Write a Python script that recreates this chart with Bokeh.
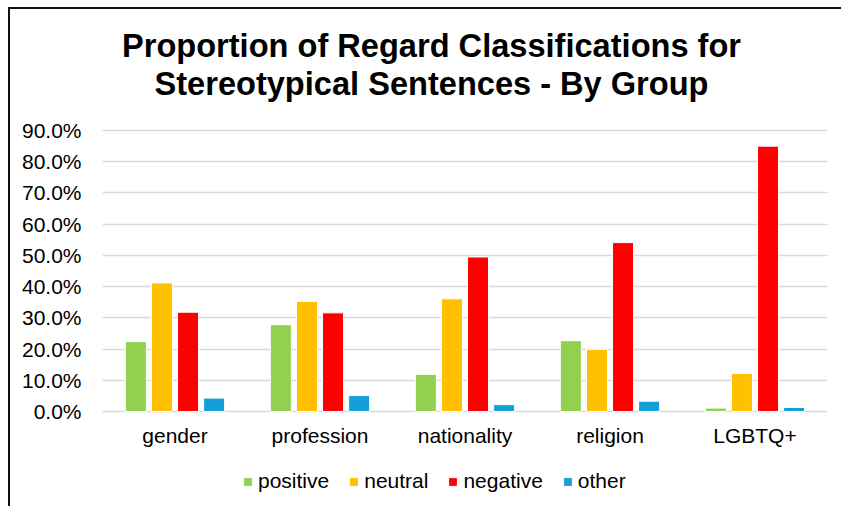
from bokeh.plotting import figure
from bokeh.models import (ColumnDataSource, FixedTicker, NumeralTickFormatter, Legend, LegendItem,
                          Range1d, FactorRange, Label)
from bokeh.transform import dodge
from bokeh.embed import file_html
from bokeh.resources import INLINE

groups = ["gender", "profession", "nationality", "religion", "LGBTQ+"]
series = ["positive", "neutral", "negative", "other"]
positive = [0.224, 0.278, 0.119, 0.227, 0.011]
neutral = [0.412, 0.353, 0.361, 0.199, 0.122]
negative = [0.318, 0.316, 0.495, 0.541, 0.850]
other = [0.043, 0.051, 0.022, 0.033, 0.013]
colors = ["#92D050", "#FFC000", "#FF0000", "#12A0D7"]
y_ticks = [0.0, 0.1, 0.2, 0.3, 0.4, 0.5, 0.6, 0.7, 0.8, 0.9]
title_lines = ["Proportion of Regard Classifications for", "Stereotypical Sentences - By Group"]

FONT = "Liberation Sans"

source = ColumnDataSource(dict(groups=groups, positive=positive, neutral=neutral,
                               negative=negative, other=other))

# the frame spans the whole canvas height: the title sits above 90 %, the legend below the labels
p = figure(x_range=FactorRange(*groups), y_range=Range1d(-0.285, 1.2876), title=None,
           width=833, height=499, output_backend="svg", toolbar_location=None,
           min_border_left=92, min_border_right=16, min_border_top=0, min_border_bottom=8)
p.styles = {"margin-left": "8px", "margin-top": "7px",
            "border-left": "2px solid #111", "border-top": "2px solid #111"}
p.outline_line_color = None
p.background_fill_color = "white"
p.border_fill_color = "white"

offsets = [-0.27, -0.09, 0.09, 0.27]
items = []
for name, col, off in zip(series, colors, offsets):
    r = p.vbar(x=dodge("groups", off, range=p.x_range), top=name, width=0.145, source=source,
               fill_color=col, line_color="white", line_width=1)
    items.append(LegendItem(label=name, renderers=[r]))

for line, ypos in zip(title_lines, [1.1723, 1.0506]):
    p.add_layout(Label(x=2.269, y=ypos, text=line, text_align="center", text_baseline="middle",
                       text_font=FONT, text_font_style="bold", text_font_size="32.6px",
                       text_color="black"))

p.yaxis.ticker = FixedTicker(ticks=y_ticks)
p.yaxis.formatter = NumeralTickFormatter(format="0.0%")
p.yaxis.axis_line_color = None
p.yaxis.major_tick_line_color = None
p.yaxis.minor_tick_line_color = None
p.yaxis.major_label_text_font = FONT
p.yaxis.major_label_text_font_size = "21px"
p.yaxis.major_label_text_color = "black"
p.yaxis.major_label_standoff = 15

p.xaxis.fixed_location = 0
p.xaxis.axis_line_color = None
p.xaxis.major_tick_line_color = None
p.xaxis.major_label_text_font = FONT
p.xaxis.major_label_text_font_size = "21px"
p.xaxis.major_label_text_color = "black"
p.xaxis.major_label_standoff = 6
p.x_range.range_padding = 0
p.x_range.group_padding = 0

p.xgrid.grid_line_color = None
p.ygrid.ticker = FixedTicker(ticks=y_ticks)
p.ygrid.grid_line_color = "#D9D9D9"
p.ygrid.grid_line_width = 1.5

legend = Legend(items=items, orientation="horizontal", location=(140, 7),
                label_text_font=FONT, label_text_font_size="21px", label_text_color="black",
                glyph_width=11, glyph_height=11, spacing=19, label_standoff=5,
                border_line_color=None, background_fill_alpha=0, padding=0, margin=0)
p.add_layout(legend)

open("out.html", "w").write(file_html(p, INLINE))
